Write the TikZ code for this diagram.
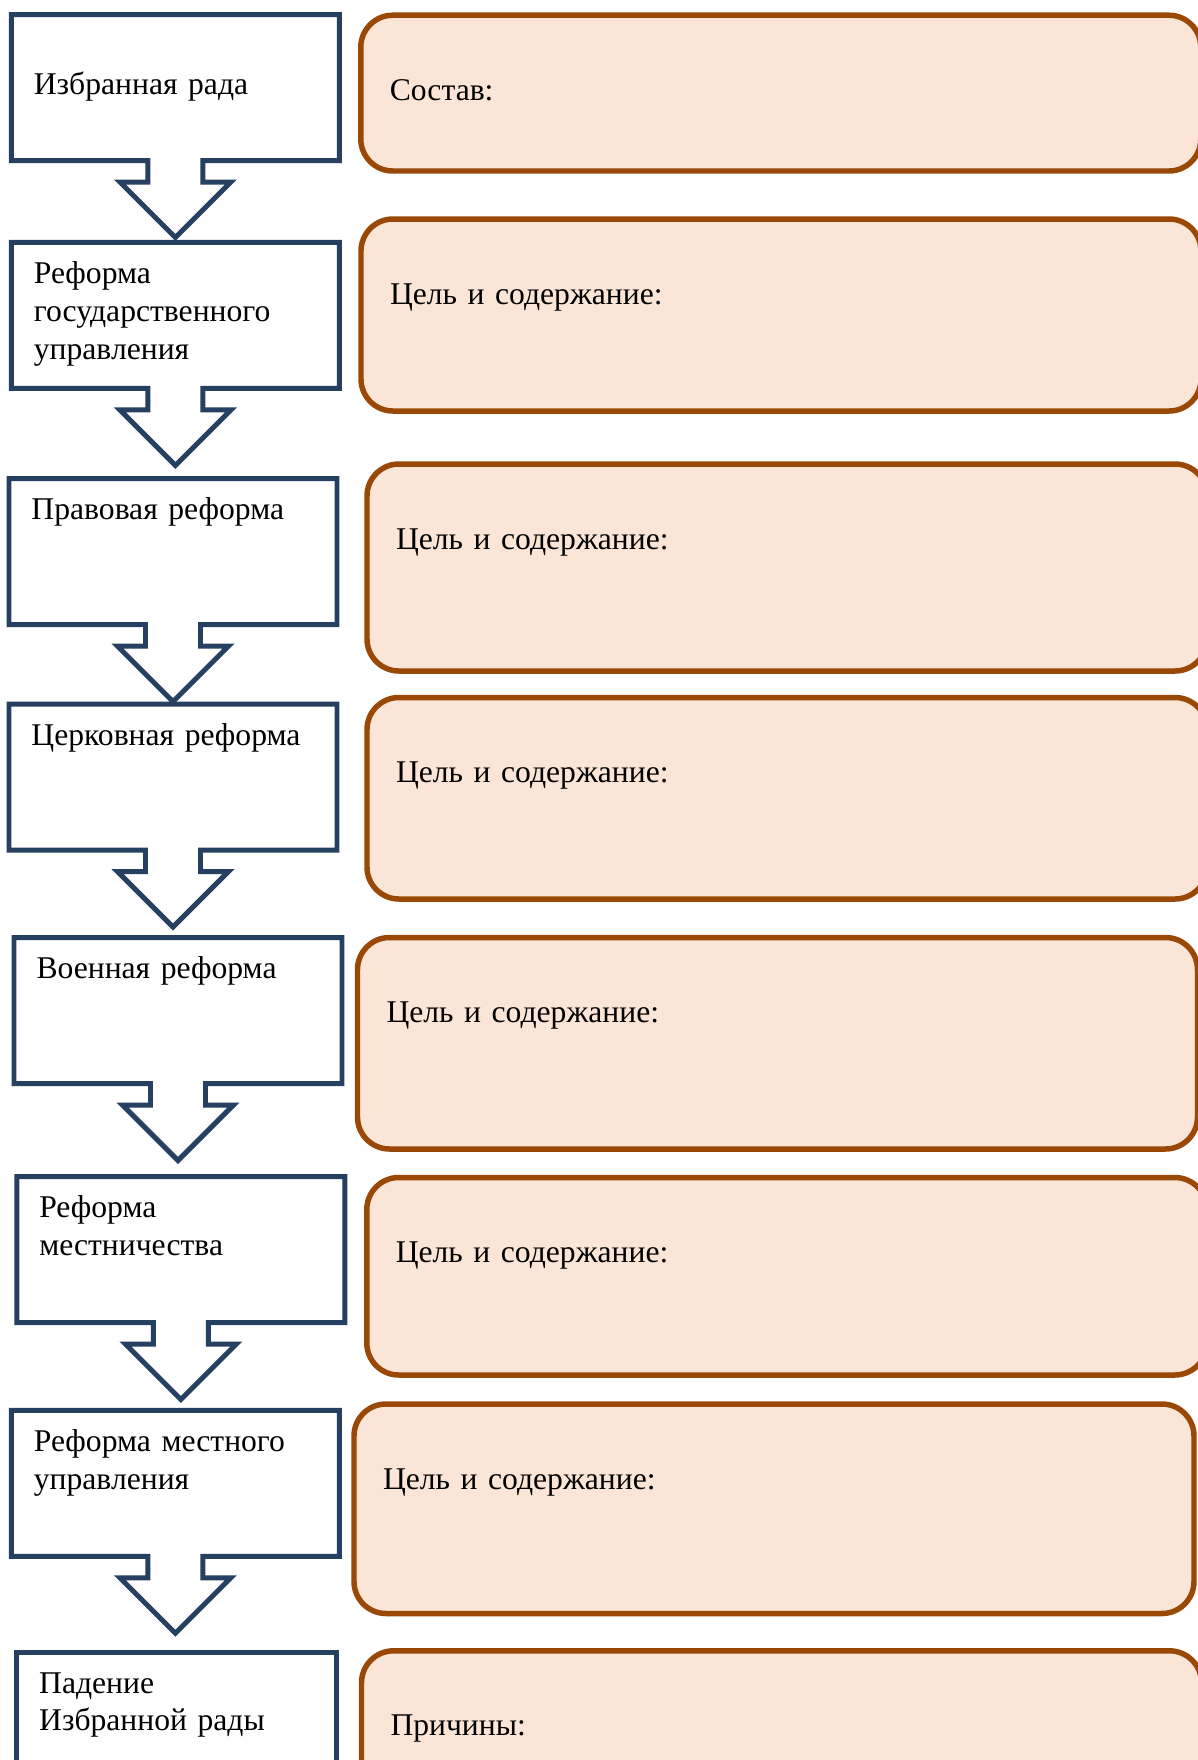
\documentclass[tikz,border=0pt]{standalone}
\usepackage{fontspec}
\setmainfont{Liberation Serif}
\usetikzlibrary{shapes.arrows}
\definecolor{stageblue}{RGB}{38,64,97}
\definecolor{infobrown}{RGB}{153,72,6}
\definecolor{infofill}{RGB}{251,229,214}

\begin{document}
\begin{tikzpicture}[
    stage/.style={arrow box, draw=stageblue, line width=1.42pt, fill=white,
      outer sep=0pt, inner xsep=0.225cm, inner ysep=0pt, text width=2.83cm, align=left,
      text height=0.41cm, text depth=1.05cm, arrow box arrows={south:0.77cm},
      arrow box shaft width=0.55cm, arrow box head extend=0.28cm, arrow box tip angle=90},
    info/.style={draw=infobrown, fill=infofill, line width=1.56pt, rounded corners=0.32cm,
      anchor=north west, outer sep=0pt, inner xsep=0.29cm, inner ysep=0pt,
      text width=7.82cm, align=left, text height=0.85cm},
    font=\fontsize{9}{10.8}\selectfont]
  \useasboundingbox (0,0) rectangle (11.98,-17.6);
  \clip (0,0) rectangle (11.98,-17.6);
  \node[stage, text height=0.795cm, text depth=0.665cm] (rada) at (1.754,-0.875) {Избранная рада};
  \node[stage] (gov) at (1.754,-3.154) {Реформа\\государственного\\управления};
  \node[stage] (law) at (1.730,-5.517) {Правовая реформа};
  \node[stage] (church) at (1.730,-7.770) {Церковная реформа};
  \node[stage] (army) at (1.780,-10.105) {Военная реформа};
  \node[stage] (rank) at (1.808,-12.495) {Реформа\\местничества};
  \node[stage] (local) at (1.754,-14.833) {Реформа местного\\управления};
  \node[stage, rectangle, text width=2.75cm] (fall) at (1.767,-17.250) {Падение\\Избранной рады};
  \node[info, text depth=0.708cm] (comp) at (3.608,-0.152) {Состав:};
  \node[info, text depth=1.07cm] (goal1) at (3.61,-2.19) {Цель и содержание:};
  \node[info, text depth=1.22cm] (goal2) at (3.67,-4.64) {Цель и содержание:};
  \node[info, text depth=1.165cm] (goal3) at (3.67,-6.975) {Цель и содержание:};
  \node[info, text depth=1.265cm] (goal4) at (3.575,-9.375) {Цель и содержание:};
  \node[info, text depth=1.125cm] (goal5) at (3.668,-11.775) {Цель и содержание:};
  \node[info, text depth=1.245cm] (goal6) at (3.54,-14.04) {Цель и содержание:};
  \node[info, text depth=1.25cm] (why) at (3.615,-16.508) {Причины:};
\end{tikzpicture}
\end{document}
